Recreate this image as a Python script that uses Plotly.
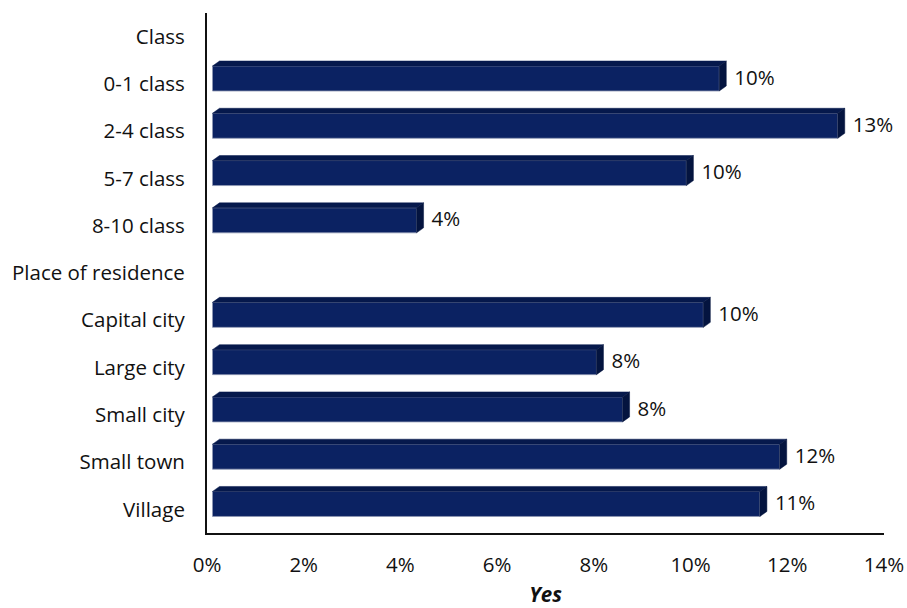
import plotly.graph_objects as go

# ---- data ----
categories = ["Class", "0-1 class", "2-4 class", "5-7 class", "8-10 class",
              "Place of residence", "Capital city", "Large city", "Small city",
              "Small town", "Village"]
yes_share = [None, 0.1048, 0.1293, 0.098, 0.0422, None,
             0.1015, 0.0794, 0.0848, 0.1173, 0.1132]
x_ticks = [0, 0.02, 0.04, 0.06, 0.08, 0.10, 0.12, 0.14]
x_tick_labels = ["0%", "2%", "4%", "6%", "8%", "10%", "12%", "14%"]

# ---- layout geometry ----
W, H = 907, 608
M_L, M_R, M_T, M_B = 207, 23, 13, 75
X_MAX = 0.14
n = len(categories)
px_x = (W - M_L - M_R) / X_MAX          # pixels per x unit
px_y = (H - M_T - M_B) / n              # pixels per category

FONT = "Open Sans"
FS = 20.5
FRONT = "#0b2262"
TOP = "#06194c"
SIDE = "#04143f"
EDGE = "#8f98b2"

# pseudo-3D projection of each bar (pixel offsets converted to data units)
base = 5.5 / px_x
dx = 7 / px_x
dy = -5 / px_y
shift = -5.4 / px_y
half = 12.5 / px_y

idx = [i for i, v in enumerate(yes_share) if v is not None]
vals = [yes_share[i] for i in idx]
yc = [i + shift for i in idx]

fig = go.Figure()

# front faces
fig.add_trace(go.Bar(
    orientation="h", y=yc, x=vals, base=[base] * len(vals), width=2 * half,
    marker=dict(color=FRONT, line=dict(color=EDGE, width=0.8)),
    hoverinfo="skip", showlegend=False,
))

# top and side faces
top_x, top_y, side_x, side_y = [], [], [], []
for v, c in zip(vals, yc):
    x0, x1 = base, base + v
    y_top, y_bot = c - half, c + half
    top_x += [x0, x0 + dx, x1 + dx, x1, x0, None]
    top_y += [y_top, y_top + dy, y_top + dy, y_top, y_top, None]
    side_x += [x1, x1 + dx, x1 + dx, x1, x1, None]
    side_y += [y_top, y_top + dy, y_bot + dy, y_bot, y_top, None]

fig.add_trace(go.Scatter(
    x=top_x, y=top_y, mode="lines", fill="toself", fillcolor=TOP,
    line=dict(color=TOP, width=0.5), hoverinfo="skip", showlegend=False,
))
fig.add_trace(go.Scatter(
    x=side_x, y=side_y, mode="lines", fill="toself", fillcolor=SIDE,
    line=dict(color=SIDE, width=0.5), hoverinfo="skip", showlegend=False,
))

# value labels
fig.add_trace(go.Scatter(
    x=[base + v + dx + 8 / px_x for v in vals], y=[c + 1 / px_y for c in yc],
    mode="text", text=[f"{v:.0%}" for v in vals],
    textposition="middle right",
    textfont=dict(family=FONT, size=FS, color="#111111"),
    hoverinfo="skip", showlegend=False, cliponaxis=False,
))

fig.update_layout(
    width=W, height=H,
    margin=dict(l=M_L, r=M_R, t=M_T, b=M_B),
    plot_bgcolor="white", paper_bgcolor="white",
    font=dict(family=FONT, size=FS, color="#111111"),
    showlegend=False,
)
fig.update_xaxes(
    range=[0, X_MAX], tickvals=x_ticks, ticktext=x_tick_labels,
    showgrid=False, zeroline=False, showline=True, linecolor="#111111",
    linewidth=2, ticks="", ticklabelstandoff=12, automargin=False,
    title=dict(text="<b><i>Yes</i></b>", standoff=22,
               font=dict(family=FONT, size=FS)),
)
fig.update_yaxes(
    range=[n - 0.5, -0.5], tickvals=list(range(n)), ticktext=categories,
    showgrid=False, zeroline=False, showline=True, linecolor="#111111",
    linewidth=2, ticks="", ticklabelstandoff=16, automargin=False,
)

fig.write_html("out.html")
